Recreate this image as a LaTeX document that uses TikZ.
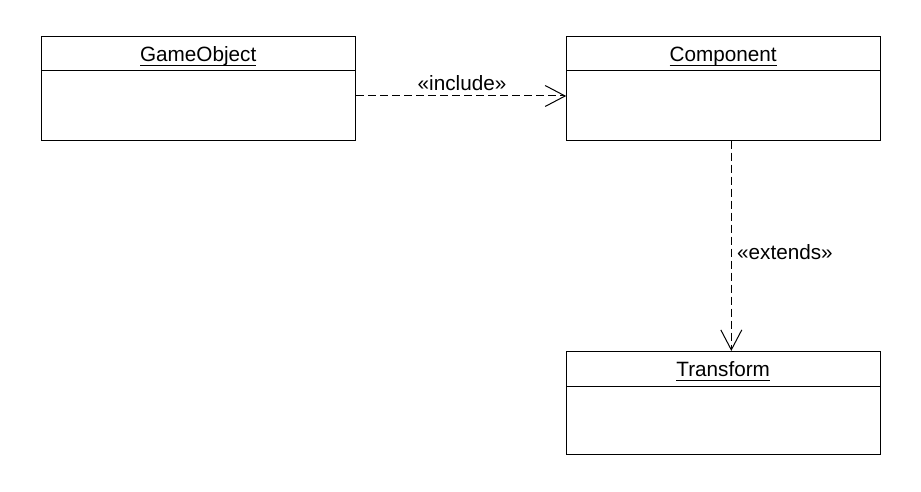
\documentclass[tikz,border=0pt]{standalone}
\usepackage{fontspec}
\setmainfont{Liberation Sans}
\usetikzlibrary{arrows.meta}
\newcommand\ulname[1]{\setbox0\hbox{#1}\rlap{\rule[-4.6pt]{\wd0}{0.9pt}}\box0}
\tikzset{
  umlbox/.style={draw=black, line width=1pt, minimum width=314pt, minimum height=103.5pt, inner sep=0pt, fill=white},
  umltitle/.style={inner sep=0pt, font=\fontsize{20.7}{24}\selectfont, anchor=base},
  dep/.style={draw=black, line width=1pt, dash pattern=on 8pt off 4pt, -{Straight Barb[length=20pt,width=21pt,line width=1pt]}},
  deplabel/.style={inner sep=0pt, font=\fontsize{20.7}{24}\selectfont}
}
\begin{document}
\begin{tikzpicture}[x=1pt,y=-1pt]
\useasboundingbox[fill=white] (0,0) rectangle (921,492);
% boxes
\node[umlbox] (go) at (198.7,88.4) {};
\node[umlbox] (co) at (723.7,88.4) {};
\node[umlbox] (tr) at (723.7,403.2) {};
% header separators
\draw[line width=1pt] ([yshift=-34.6pt]go.north west) -- ([yshift=-34.6pt]go.north east);
\draw[line width=1pt] ([yshift=-34.6pt]co.north west) -- ([yshift=-34.6pt]co.north east);
\draw[line width=1pt] ([yshift=-35.4pt]tr.north west) -- ([yshift=-35.4pt]tr.north east);
% titles
\node[umltitle] (got) at (198.2,61.7) {\ulname{GameObject}};
\node[umltitle] (cot) at (723.2,61.7) {\ulname{Component}};
\node[umltitle] (trt) at (723.2,376.5) {\ulname{Transform}};
% connectors
\coordinate (goR) at ([yshift=-7.6pt]go.east);
\draw[dep] (goR) -- (goR -| co.west);
\coordinate (coB) at ([xshift=7.6pt]co.south);
\draw[dep] (coB) -- (coB |- tr.north);
% labels
\node[deplabel] (inc) at (462,83.5) {«include»};
\node[deplabel, anchor=west] (ext) at (737,252) {«extends»};
\end{tikzpicture}
\end{document}
